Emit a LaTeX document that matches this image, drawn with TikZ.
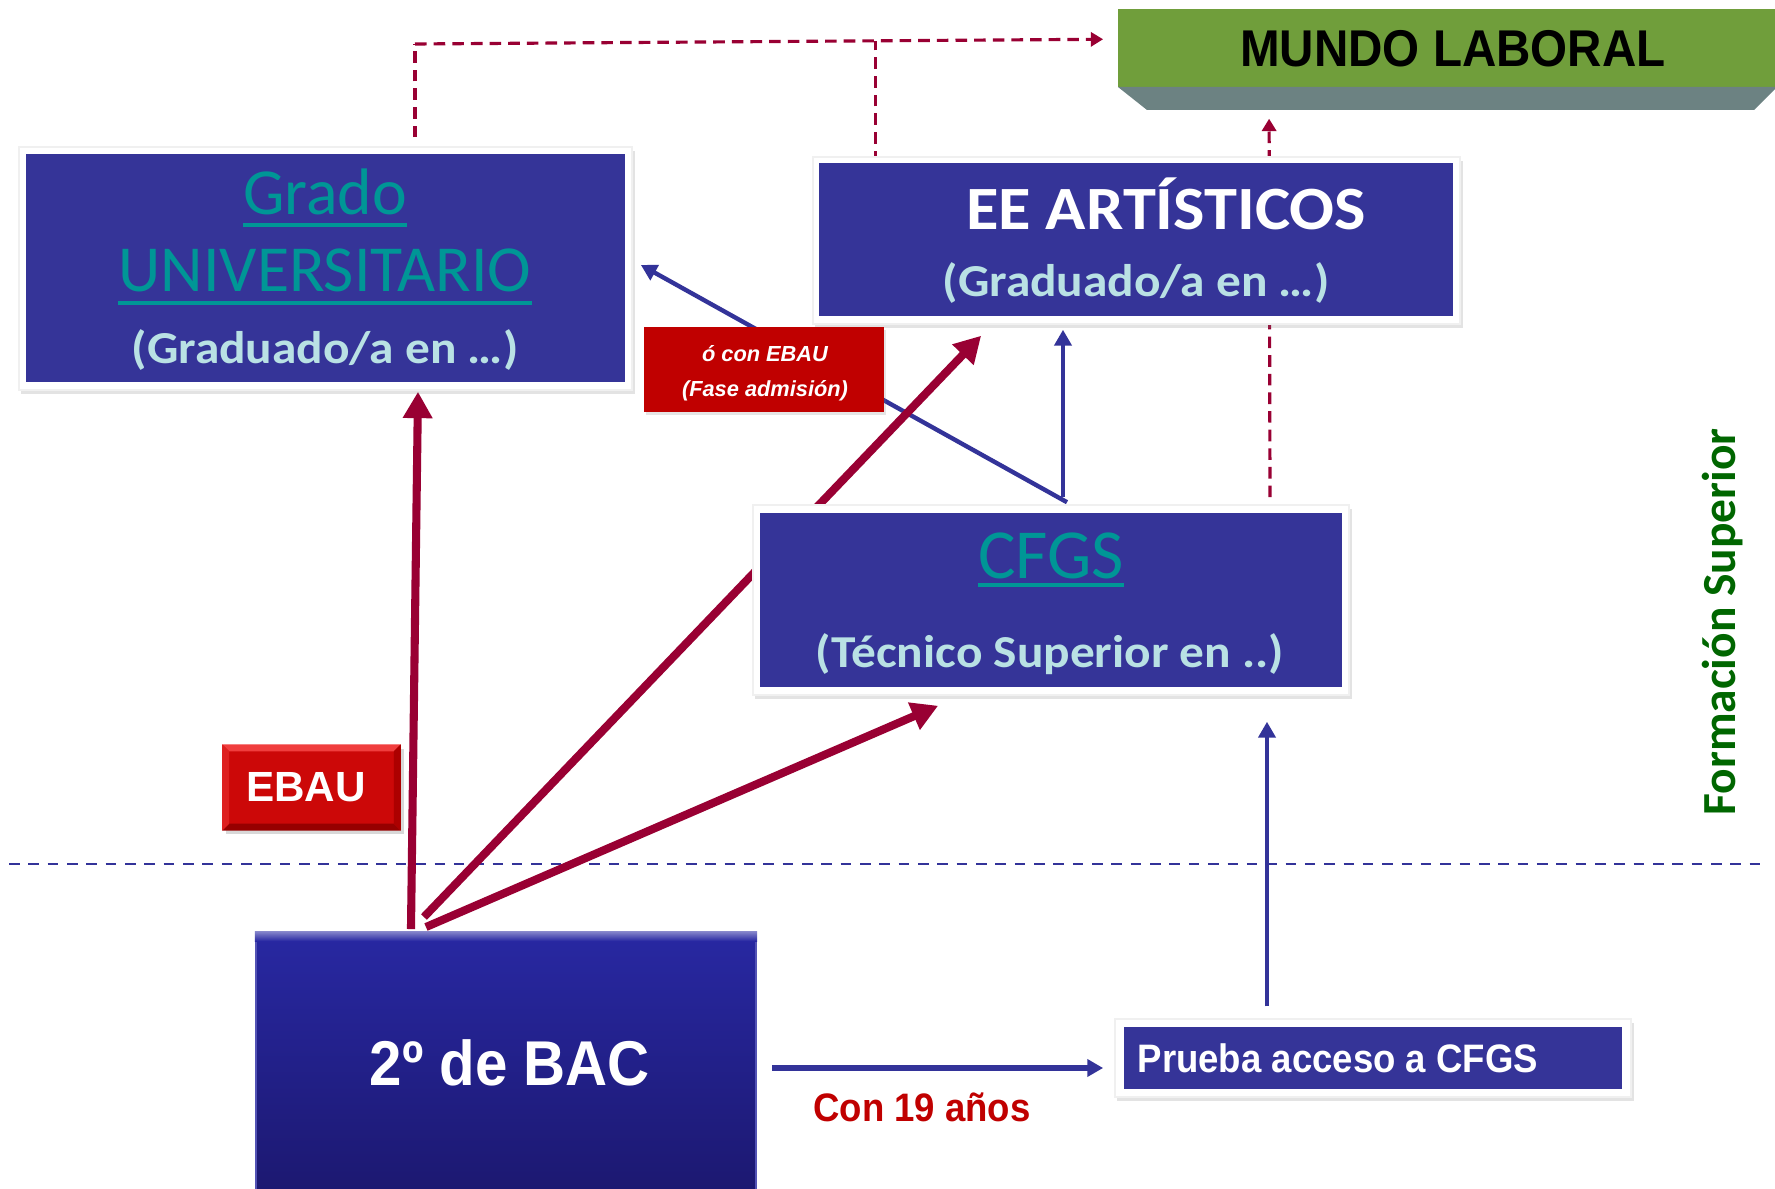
\documentclass[tikz,border=0pt]{standalone}
\usepackage{fontspec}
\setmainfont{Liberation Sans}
\newfontfamily\arialN[FakeStretch=0.92]{Liberation Sans}
\newfontfamily\calfont{Carlito}
\newfontfamily\calW[FakeStretch=1.08]{Carlito}
\usetikzlibrary{arrows.meta,calc,shadows,backgrounds}
\pgfdeclarelayer{conn}
\pgfsetlayers{background,conn,main}
\definecolor{boxblue}{RGB}{53,52,152}
\definecolor{teal2}{RGB}{0,150,150}
\definecolor{subcyan}{RGB}{185,225,228}
\definecolor{labred}{RGB}{192,0,0}
\definecolor{arrred}{RGB}{153,0,51}
\definecolor{arrblue}{RGB}{51,51,153}
\definecolor{mgreen}{RGB}{112,158,59}
\definecolor{mgrey}{RGB}{108,130,130}
\definecolor{fgreen}{RGB}{0,102,0}
\definecolor{bactop}{RGB}{40,40,162}
\definecolor{bacbot}{RGB}{28,24,112}
\definecolor{ebred}{RGB}{204,8,8}
\definecolor{ebtop}{RGB}{240,62,62}
\definecolor{ebbot}{RGB}{150,0,0}
\definecolor{ebleft}{RGB}{222,32,32}
\definecolor{ebright}{RGB}{172,0,0}
\newcommand\myul[3]{\setbox0\hbox{#3}\rlap{\raisebox{-#1}{\rule{\wd0}{#2}}}\box0}
\begin{document}
\begin{tikzpicture}[x=0.01cm,y=-0.01cm,
  frame/.style={fill=white, draw=black!6, line width=0.4pt, inner sep=0,
    drop shadow={opacity=0.22, shadow xshift=0.7pt, shadow yshift=-1.1pt}},
  bluebox/.style={fill=boxblue, inner sep=0, draw=none},
  txt/.style={inner sep=0, anchor=base},
  rarrow/.style={draw=arrred, line width=2.3pt, -{Triangle[width=8pt,length=7.5pt]}},
  barrow/.style={draw=arrblue, line width=1.25pt, -{Triangle[width=4.8pt,length=4.5pt]}},
  rdash/.style={draw=arrred, line width=0.9pt, dash pattern=on 3.3pt off 2pt},
  rdasharrow/.style={rdash, -{Triangle[width=4pt,length=3.5pt]}}]
\begin{pgfonlayer}{background}
\fill[white] (0,0) rectangle (1775,1189);
\end{pgfonlayer}
\useasboundingbox (0,0) rectangle (1775,1189);

% boxes
\node[fill=mgreen, inner sep=0, minimum width=6.70cm, minimum height=0.78cm] (mundo) at (1453,48) {};
\fill[mgrey] (1118,87) -- (1777,87) -- (1754,110) -- (1147,110) -- cycle;
\node[frame, minimum width=6.13cm, minimum height=2.43cm] (gradoF) at (325.5,268.5) {};
\node[bluebox, minimum width=5.99cm, minimum height=2.28cm] (grado) at (325.5,268) {};
\node[frame, minimum width=6.47cm, minimum height=1.67cm] (eeF) at (1136.5,240.5) {};
\node[bluebox, minimum width=6.33cm, minimum height=1.53cm] (ee) at (1136,239.5) {};
\node[frame, minimum width=5.96cm, minimum height=1.90cm] (cfgsF) at (1051,600) {};
\node[bluebox, minimum width=5.82cm, minimum height=1.74cm] (cfgs) at (1051,600) {};
\node[fill=labred, inner sep=0, minimum width=2.40cm, minimum height=0.85cm,
  drop shadow={opacity=0.2,shadow xshift=0.6pt,shadow yshift=-0.8pt}] (lab) at (764,369.5) {};
\node[frame, minimum width=5.16cm, minimum height=0.78cm] (pruebaF) at (1373,1058) {};
\node[bluebox, minimum width=4.98cm, minimum height=0.62cm] (prueba) at (1373,1058) {};
\node[inner sep=0, minimum width=5.00cm, minimum height=2.63cm, top color=bactop, bottom color=bacbot,
  draw=bactop!80!white, line width=0.5pt] (bac) at (506,1063.5) {};
\shade[top color=bactop!55!white, bottom color=bactop] (bac.north west) rectangle ($(bac.north east)+(0,10)$);
\node[fill=ebred, inner sep=0, minimum width=1.77cm, minimum height=0.85cm,
  drop shadow={opacity=0.3,shadow xshift=1pt,shadow yshift=-1.2pt}] (ebau) at (311.5,787.5) {};
\fill[ebtop] (ebau.north west) -- (ebau.north east) -- ++(-7,7) -- ($(ebau.north west)+(7,7)$) -- cycle;
\fill[ebbot] (ebau.south west) -- (ebau.south east) -- ++(-7,-7) -- ($(ebau.south west)+(7,-7)$) -- cycle;
\fill[ebleft] (ebau.north west) -- (ebau.south west) -- ++(7,-7) -- ($(ebau.north west)+(7,7)$) -- cycle;
\fill[ebright] (ebau.north east) -- (ebau.south east) -- ++(-7,-7) -- ($(ebau.north east)+(-7,7)$) -- cycle;

% texts
\node[txt, font=\arialN\bfseries\fontsize{14.7}{16}\selectfont] (mundoT) at (1453,67) {MUNDO LABORAL};
\node[txt, font=\calfont\fontsize{18.7}{20}\selectfont, text=teal2] (gradoT1) at (325,215) {\myul{3.35pt}{1pt}{Grado}};
\node[txt, font=\calfont\fontsize{18.7}{20}\selectfont, text=teal2] (gradoT2) at (325,292) {\myul{3.6pt}{1pt}{UNIVERSITARIO}};
\node[txt, font=\calW\bfseries\fontsize{13}{15}\selectfont, text=subcyan] (gradoT3) at (325,364) {(Graduado/a en …)};
\node[txt, font=\calW\bfseries\fontsize{17.5}{20}\selectfont, text=white] (eeT1) at (1166,230) {EE ARTÍSTICOS};
\node[txt, font=\calW\bfseries\fontsize{13}{15}\selectfont, text=subcyan] (eeT2) at (1136,297) {(Graduado/a en …)};
\node[txt, font=\calfont\fontsize{20}{22}\selectfont, text=teal2] (cfgsT1) at (1051,579) {\myul{2.2pt}{1.1pt}{CFGS}};
\node[txt, font=\calW\bfseries\fontsize{13}{15}\selectfont, text=subcyan] (cfgsT2) at (1050,668) {(Técnico Superior en ..)};
\node[txt, font=\bfseries\itshape\fontsize{6.2}{7}\selectfont, text=white] (labT1) at (765,362) {ó con EBAU};
\node[txt, font=\bfseries\itshape\fontsize{6.2}{7}\selectfont, text=white] (labT2) at (765,397) {(Fase admisión)};
\node[txt, font=\bfseries\fontsize{12}{14}\selectfont, text=white] (ebauT) at (306,802) {EBAU};
\node[txt, font=\arialN\bfseries\fontsize{18}{20}\selectfont, text=white] (bacT) at (510,1086) {2º de BAC};
\node[txt, anchor=base west, font=\arialN\bfseries\fontsize{11.3}{13}\selectfont, text=white] (pruebaT) at (1137,1073) {Prueba acceso a CFGS};
\node[txt, font=\arialN\bfseries\fontsize{11.3}{13}\selectfont, text=labred] (conT) at (922,1122) {Con 19 años};
\node[txt, rotate=90, font=\calfont\bfseries\fontsize{13.5}{15}\selectfont, text=fgreen] (formT) at (1735,622) {Formación Superior};

% connectors
\begin{pgfonlayer}{conn}
\draw[arrblue, line width=0.6pt, dash pattern=on 3pt off 2.5pt] (9,864) -- (1766,864);
\draw[barrow] ($(cfgsF.north)+(16,-2)$) -- ($(gradoF.east)+(8,-3.5)$);
\draw[barrow] ($(cfgsF.north)+(12,-7)$) -- ($(eeF.south)+(-73.5,5)$);
\draw[barrow] ($(pruebaF.north)+(-106,-12)$) -- ($(cfgsF.south)+(216,26)$);
\draw[barrow, line width=1.7pt] ($(bac.east)+(15,4.5)$) -- ($(pruebaF.west)+(-11,10)$);
\draw[rarrow] ($(bac.north west)+(156,-2)$) -- ($(gradoF.south)+(92.5,1)$);
\draw[rarrow] ($(bac.north west)+(169,-14)$) -- ($(eeF.south west)+(169,11)$);
\draw[rarrow] ($(bac.north west)+(171,-4)$) -- ($(cfgsF.south west)+(186,10)$);
\coordinate (topl) at (415,44);
\draw[rdash] ($(gradoF.north)+(89.5,-9)$) -- (topl);
\draw[rdasharrow] (topl) -- ($(mundo.north west)+(-14,31)$);
\draw[rdash] ($(ee.north west)+(56.5,0)$) -- ($(ee.north west)+(56.5,-121)$);
\draw[rdasharrow] ($(cfgsF.north)+(219,-7)$) -- ($(mundo.south west)+(152,31)$);
\end{pgfonlayer}
\end{tikzpicture}
\end{document}
